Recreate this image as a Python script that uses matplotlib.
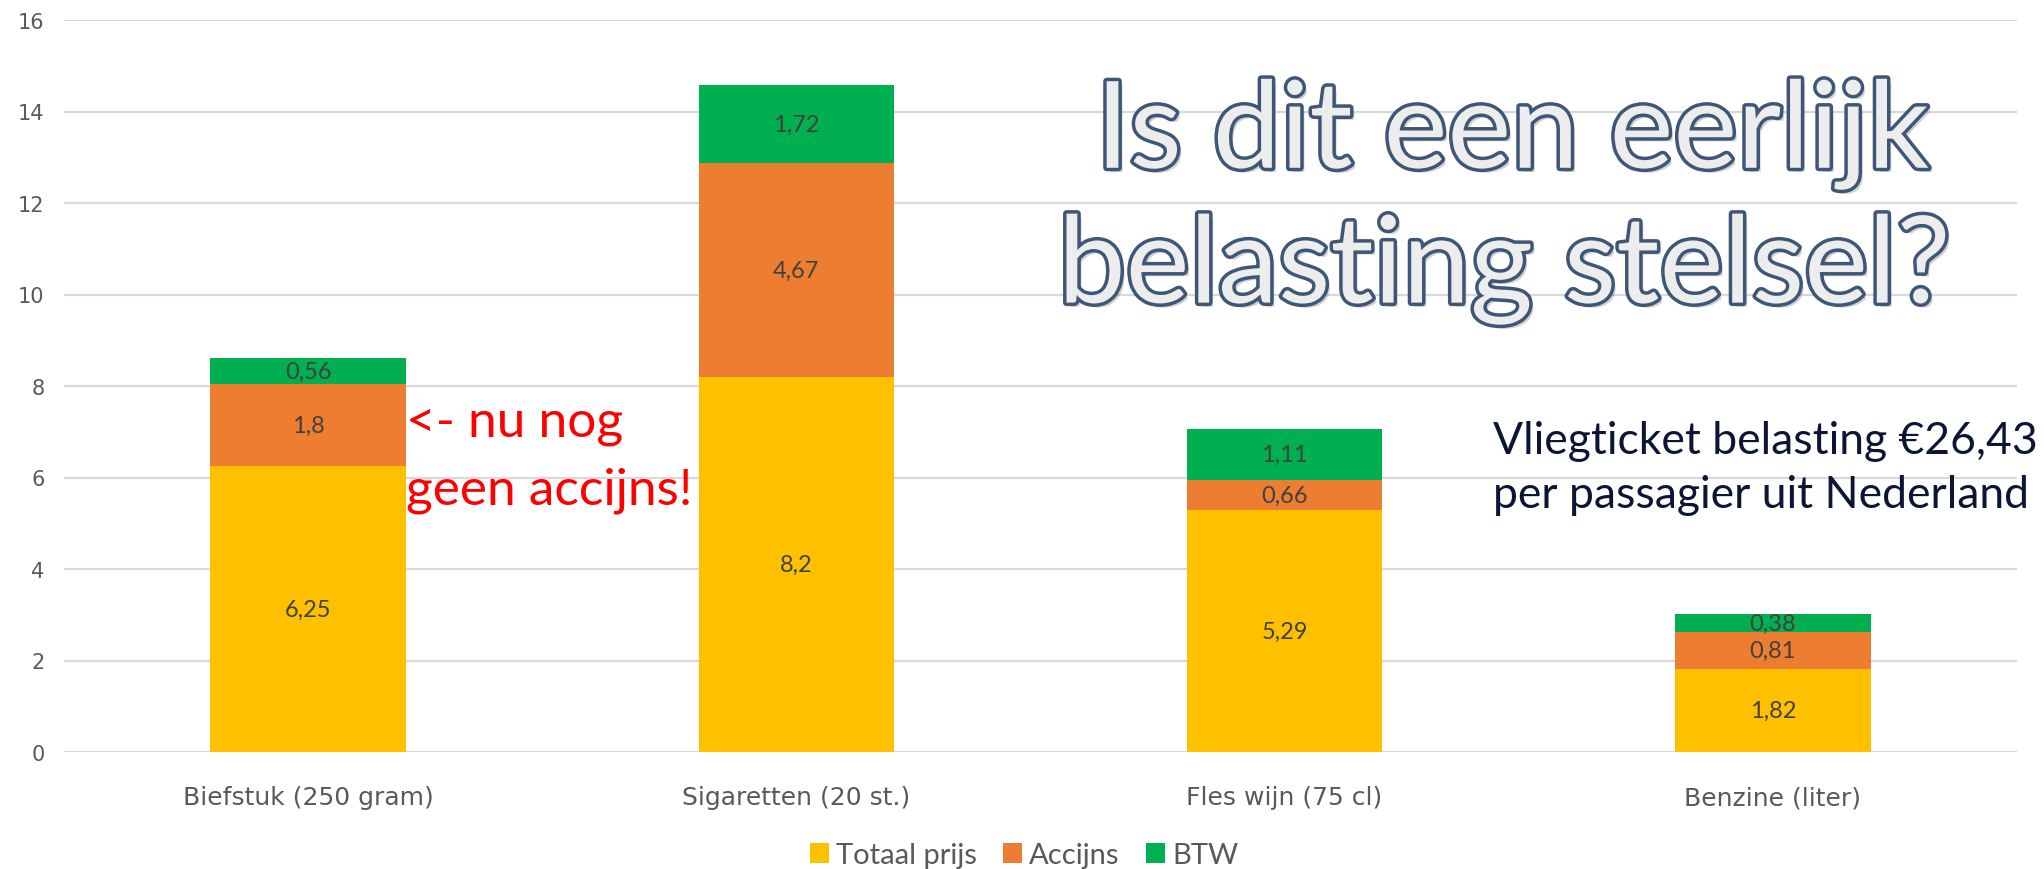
import numpy as np
import matplotlib
matplotlib.use("Agg")
import matplotlib.pyplot as plt
import matplotlib.patheffects as pe
from matplotlib.patches import Patch

categories = ["Biefstuk (250 gram)", "Sigaretten (20 st.)", "Fles wijn (75 cl)", "Benzine (liter)"]
totaal_prijs = [6.25, 8.2, 5.29, 1.82]
accijns = [1.8, 4.67, 0.66, 0.81]
btw = [0.56, 1.72, 1.11, 0.38]
series_names = ["Totaal prijs", "Accijns", "BTW"]
colors = ["#FFC000", "#ED7D31", "#00B050"]

fig = plt.figure(figsize=(20.44, 8.70), dpi=100)
ax = fig.add_axes([64 / 2044, 1 - 753 / 870, (2017 - 64) / 2044, (753 - 21) / 870])

x = np.arange(len(categories))
bottom = np.zeros(len(categories))
for vals, col in zip([totaal_prijs, accijns, btw], colors):
    b = ax.bar(x, vals, 0.4, bottom=bottom, color=col, zorder=2)
    ax.bar_label(b, labels=[f"{v:g}".replace(".", ",") for v in vals],
                 label_type="center", fontsize=17, color="#404040",
                 family="Lato")
    bottom += np.array(vals)

ax.set_xlim(-0.5, len(categories) - 0.5)
ax.set_ylim(0, 16)
ax.set_yticks(np.arange(0, 17, 2))
ax.yaxis.grid(True, color="#D9D9D9", linewidth=1.6, zorder=0)
ax.set_axisbelow(True)
for s in ax.spines.values():
    s.set_visible(False)
ax.tick_params(axis="both", length=0, labelsize=15, colors="#595959", pad=14)
ax.set_xticks(x)
ax.set_xticklabels(categories, fontsize=18)
ax.tick_params(axis="x", pad=24)

# titel met omlijning
title_fx = [pe.SimplePatchShadow(offset=(3, -3), shadow_rgbFace="#7F7F7F", alpha=0.35),
            pe.Stroke(linewidth=5, foreground="#3E5678"), pe.Normal()]
for txt, xx, yy in [("Is dit een eerlijk", 0.740, 0.806), ("belasting stelsel?", 0.736, 0.651)]:
    fig.text(xx, yy, txt, ha="center", va="baseline", fontsize=87, family="Lato",
             color="#EDEDED", path_effects=title_fx)

fig.text(406 / 2044, 1 - 437 / 870, "<- nu nog", ha="left", va="baseline",
         fontsize=37, family="Lato", color="#FF0000")
fig.text(406 / 2044, 1 - 505 / 870, "geen accijns!", ha="left", va="baseline",
         fontsize=37, family="Lato", color="#FF0000")

fig.text(1493 / 2044, 1 - 454 / 870, "Vliegticket belasting €26,43", ha="left",
         va="baseline", fontsize=32, family="Lato", color="#0B1535")
fig.text(1493 / 2044, 1 - 508 / 870, "per passagier uit Nederland", ha="left",
         va="baseline", fontsize=32, family="Lato", color="#0B1535")

handles = [Patch(facecolor=c, edgecolor="none") for c in colors]
fig.legend(handles, series_names, loc="center", bbox_to_anchor=(0.501, 0.016),
           ncol=3, frameon=False, handlelength=0.65, handleheight=0.65,
           handletextpad=0.25, columnspacing=0.9, labelcolor="#595959",
           prop={"family": "Lato", "size": 21})

fig.savefig("out.png", dpi=100)
